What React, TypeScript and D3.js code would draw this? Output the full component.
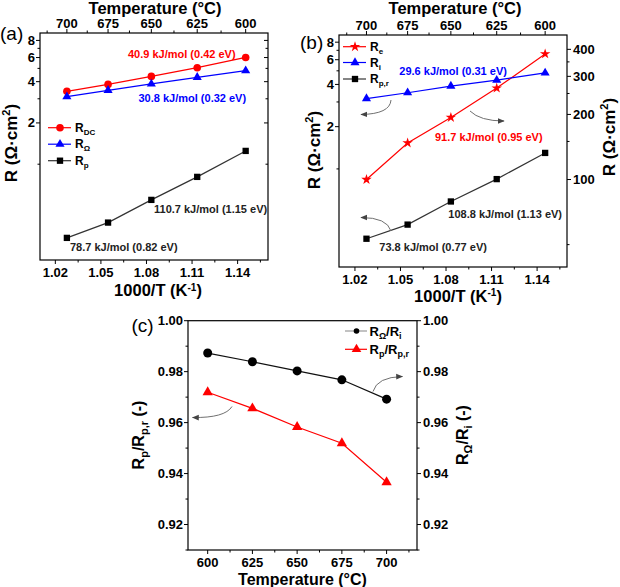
import React from 'react';
import * as d3 from 'd3';

const FONT = "'Liberation Sans', Arial, Helvetica, sans-serif";

// ---------- shared x (1000/T) ----------
const tempLabels = [700, 675, 650, 625, 600];
const invT = [1.0276, 1.0547, 1.0832, 1.1134, 1.1453];
const invTicks = [1.02, 1.05, 1.08, 1.11, 1.14];
const invMinor = [1.035, 1.065, 1.095, 1.125, 1.155];
const topMinor = [1.0146, 1.041, 1.0688, 1.0981, 1.1291];
const logMajor = [2, 4, 6, 8];
const logMinor = [1, 3, 5, 7];

// ---------- panel (a) ----------
const rDC = [3.4, 3.82, 4.37, 5.06, 6.01];
const rOhm = [3.11, 3.46, 3.85, 4.3, 4.81];
const rP = [0.29, 0.375, 0.549, 0.808, 1.25];

// ---------- panel (b) ----------
const rE = [100, 147.6, 193.7, 264.7, 381];
const rI = [3.17, 3.49, 3.89, 4.29, 4.83];
const rPr = [0.318, 0.401, 0.586, 0.846, 1.3];
const rightMajor = [100, 200, 300, 400];
const rightMinor = [50, 150, 250, 350];

// ---------- panel (c) ----------
const tempC = [600, 625, 650, 675, 700];
const ratioOhm = [0.9873, 0.9839, 0.9803, 0.9768, 0.9692];
const ratioP = [0.9719, 0.9656, 0.9583, 0.9519, 0.9366];
const cTicksX = [600, 625, 650, 675, 700];
const cMinorX = [612.5, 637.5, 662.5, 687.5, 712.5];
const cTicksY = [0.92, 0.94, 0.96, 0.98, 1.0];
const cMinorY = [0.91, 0.93, 0.95, 0.97, 0.99];

const RED = '#ff0000';
const BLUE = '#0000ff';
const DARK = '#333333';
const ARROW = '#707070';

const sym = (type: any, size: number) => d3.symbol().type(type).size(size)() as string;

function Marker({ x, y, kind, color, size }: any) {
  if (kind === 'circle') return <circle cx={x} cy={y} r={size} fill={color} />;
  const t = kind === 'triangle' ? d3.symbolTriangle : kind === 'square' ? d3.symbolSquare : d3.symbolStar;
  return <path d={sym(t, size)} transform={`translate(${x},${y})`} fill={color} />;
}

function Series({ xs, ys, xScale, yScale, color, lineColor, kind, size, lw = 1.2 }: any) {
  const line = d3
    .line<number>()
    .x((_, i) => xScale(xs[i]))
    .y((d) => yScale(d));
  return (
    <g>
      <path d={line(ys) as string} fill="none" stroke={lineColor || color} strokeWidth={lw} />
      {ys.map((v: number, i: number) => (
        <Marker key={i} x={xScale(xs[i])} y={yScale(v)} kind={kind} color={color} size={size} />
      ))}
    </g>
  );
}

function Arrow({ d, id }: any) {
  return <path d={d} fill="none" stroke={ARROW} strokeWidth={1} markerEnd={`url(#${id})`} />;
}

const tickText = { fontFamily: FONT, fontWeight: 700, fontSize: 13, fill: '#000' } as any;
const annText = { fontFamily: FONT, fontWeight: 700, fontSize: 11 } as any;
const titleText = { fontFamily: FONT, fontWeight: 700, fontSize: 17, fill: '#000' } as any;
const legText = { fontFamily: FONT, fontWeight: 700, fontSize: 12, fill: '#000' } as any;

function RTitle({ x, y }: any) {
  return (
    <text transform={`translate(${x},${y}) rotate(-90)`} textAnchor="middle" style={titleText}>
      R (Ω·cm<tspan dy={-7} fontSize={11}>2</tspan>
      <tspan dy={7}>)</tspan>
    </text>
  );
}

function InvTitle({ x, y }: any) {
  return (
    <text x={x} y={y} textAnchor="middle" style={{ ...titleText, fontSize: 16.5 }}>
      1000/T (K<tspan dy={-5.5} fontSize={10}>-1</tspan>
      <tspan dy={5.5}>)</tspan>
    </text>
  );
}

function LegendItem({ x, y, kind, color, lineColor, size, main, sub }: any) {
  return (
    <g>
      <line x1={x} x2={x + 23} y1={y} y2={y} stroke={lineColor || color} strokeWidth={1.2} />
      <Marker x={x + 12} y={y} kind={kind} color={color} size={size} />
      <text x={x + 27} y={y + 4} style={legText}>
        {main}
        <tspan dy={3} fontSize={8}>
          {sub}
        </tspan>
      </text>
    </g>
  );
}

function InvTempFrame({ xScale, yL, box, rightLabels, yR }: any) {
  const { l, r, t, b } = box;
  return (
    <g>
      <rect x={l} y={t} width={r - l} height={b - t} fill="none" stroke="#000" strokeWidth={1.2} />
      {/* bottom axis */}
      {invTicks.map((v) => (
        <g key={'b' + v}>
          <line x1={xScale(v)} x2={xScale(v)} y1={b} y2={b + 4} stroke="#000" strokeWidth={1} />
          <text x={xScale(v)} y={b + 16.5} textAnchor="middle" style={tickText}>
            {v.toFixed(2)}
          </text>
        </g>
      ))}
      {invMinor.map((v) => (
        <line key={'bm' + v} x1={xScale(v)} x2={xScale(v)} y1={b} y2={b + 2.5} stroke="#000" strokeWidth={1} />
      ))}
      {/* top axis (temperature) */}
      {invT.map((v, i) => (
        <g key={'t' + v}>
          <line x1={xScale(v)} x2={xScale(v)} y1={t} y2={t - 4} stroke="#000" strokeWidth={1} />
          <text x={xScale(v)} y={t - 5.5} textAnchor="middle" style={tickText}>
            {tempLabels[i]}
          </text>
        </g>
      ))}
      {topMinor.map((v) => (
        <line key={'tm' + v} x1={xScale(v)} x2={xScale(v)} y1={t} y2={t - 2.5} stroke="#000" strokeWidth={1} />
      ))}
      {/* left axis */}
      {logMajor.map((v) => (
        <g key={'l' + v}>
          <line x1={l} x2={l - 4} y1={yL(v)} y2={yL(v)} stroke="#000" strokeWidth={1} />
          <text x={l - 5} y={yL(v) + 4.5} textAnchor="end" style={tickText}>
            {v}
          </text>
        </g>
      ))}
      {logMinor.map((v) => (
        <line key={'lm' + v} x1={l} x2={l - 2.5} y1={yL(v)} y2={yL(v)} stroke="#000" strokeWidth={1} />
      ))}
      {/* right axis */}
      {rightLabels ? (
        <g>
          {rightMajor.map((v) => (
            <g key={'r' + v}>
              <line x1={r} x2={r + 4} y1={yR(v)} y2={yR(v)} stroke="#000" strokeWidth={1} />
              <text x={r + 6} y={yR(v) + 4.5} textAnchor="start" style={tickText}>
                {v}
              </text>
            </g>
          ))}
          {rightMinor.map((v) => (
            <line key={'rm' + v} x1={r} x2={r + 2.5} y1={yR(v)} y2={yR(v)} stroke="#000" strokeWidth={1} />
          ))}
        </g>
      ) : (
        <g>
          {logMajor.map((v) => (
            <line key={'r' + v} x1={r} x2={r - 4} y1={yL(v)} y2={yL(v)} stroke="#000" strokeWidth={1} />
          ))}
          {logMinor.map((v) => (
            <line key={'rm' + v} x1={r} x2={r - 2.5} y1={yL(v)} y2={yL(v)} stroke="#000" strokeWidth={1} />
          ))}
        </g>
      )}
    </g>
  );
}

export default function App() {
  // panel (a)
  const boxA = { l: 40, r: 268, t: 33, b: 260 };
  const xA = d3.scaleLinear().domain([1.0099, 1.16]).range([boxA.l, boxA.r]);
  const yA = d3.scaleLog().domain([0.2, 9.06]).range([boxA.b, boxA.t]);

  // panel (b)
  const boxB = { l: 339, r: 567, t: 35, b: 267 };
  const xB = d3.scaleLinear().domain([1.0095, 1.1597]).range([boxB.l, boxB.r]);
  const yBL = d3.scaleLog().domain([0.2, 9.0]).range([boxB.b, boxB.t]);
  const yBR = d3.scaleLog().domain([39.4, 466]).range([boxB.b, boxB.t]);

  // panel (c)
  const boxC = { l: 188, r: 417, t: 320.7, b: 550 };
  const xC = d3.scaleLinear().domain([589, 717]).range([boxC.l, boxC.r]);
  const yC = d3.scaleLinear().domain([0.91, 1.0]).range([boxC.b, boxC.t]);

  return (
    <svg
      width={620}
      height={587}
      viewBox="0 0 620 587"
      style={{ position: 'absolute', left: 0, top: 0, background: '#fff' }}
    >
      <defs>
        <marker id="ah" viewBox="0 0 10 10" refX="9" refY="5" markerWidth="7" markerHeight="7" orient="auto-start-reverse">
          <path d="M0,1 L10,5 L0,9 z" fill="#444" />
        </marker>
      </defs>
      <rect x={0} y={0} width={620} height={587} fill="#fff" />

      {/* ================= (a) ================= */}
      <text x={0} y={40} style={{ fontFamily: FONT, fontSize: 19, fill: '#000' }}>(a)</text>
      <text x={155} y={13.5} textAnchor="middle" style={{ ...titleText, fontSize: 16.5 }}>Temperature (°C)</text>
      <InvTempFrame xScale={xA} yL={yA} box={boxA} />
      <RTitle x={17} y={143} />
      <InvTitle x={158} y={296} />
      <Series xs={invT} ys={rDC} xScale={xA} yScale={yA} color={RED} kind="circle" size={3.8} />
      <Series xs={invT} ys={rOhm} xScale={xA} yScale={yA} color={BLUE} kind="triangle" size={36} />
      <Series xs={invT} ys={rP} xScale={xA} yScale={yA} color="#000" lineColor={DARK} kind="square" size={40} />
      <text x={128} y={57.5} style={{ ...annText, fill: RED }}>40.9 kJ/mol (0.42 eV)</text>
      <text x={138.5} y={101.7} style={{ ...annText, fill: BLUE }}>30.8 kJ/mol (0.32 eV)</text>
      <text x={154} y={213} style={{ ...annText, fill: '#222' }}>110.7 kJ/mol (1.15 eV)</text>
      <text x={70} y={251.3} style={{ ...annText, fill: '#222' }}>78.7 kJ/mol (0.82 eV)</text>
      <LegendItem x={48} y={127.7} kind="circle" color={RED} size={3.8} main="R" sub="DC" />
      <LegendItem x={48} y={144.2} kind="triangle" color={BLUE} size={36} main="R" sub="Ω" />
      <LegendItem x={48} y={160.7} kind="square" color="#000" lineColor={DARK} size={40} main="R" sub="p" />

      {/* ================= (b) ================= */}
      <text x={300} y={49} style={{ fontFamily: FONT, fontSize: 19, fill: '#000' }}>(b)</text>
      <text x={455} y={13.5} textAnchor="middle" style={{ ...titleText, fontSize: 16.5 }}>Temperature (°C)</text>
      <InvTempFrame xScale={xB} yL={yBL} box={boxB} rightLabels yR={yBR} />
      <RTitle x={320} y={150} />
      <RTitle x={615} y={137} />
      <InvTitle x={458} y={301.5} />
      <Series xs={invT} ys={rE} xScale={xB} yScale={yBR} color={RED} kind="star" size={34} />
      <Series xs={invT} ys={rI} xScale={xB} yScale={yBL} color={BLUE} kind="triangle" size={36} />
      <Series xs={invT} ys={rPr} xScale={xB} yScale={yBL} color="#000" lineColor={DARK} kind="square" size={40} />
      <text x={399.3} y={75} style={{ ...annText, fill: BLUE }}>29.6 kJ/mol (0.31 eV)</text>
      <text x={435} y={140.7} style={{ ...annText, fill: RED }}>91.7 kJ/mol (0.95 eV)</text>
      <text x={448.3} y={218} style={{ ...annText, fill: '#222' }}>108.8 kJ/mol (1.13 eV)</text>
      <text x={379.3} y={250.7} style={{ ...annText, fill: '#222' }}>73.8 kJ/mol (0.77 eV)</text>
      <Arrow id="ah" d="M391,100 Q390,114 361,114.5" />
      <Arrow id="ah" d="M470,111 Q480,121 504,121" />
      <Arrow id="ah" d="M391,231 Q387,217.5 361,217.5" />
      <LegendItem x={343} y={46.7} kind="star" color={RED} size={34} main="R" sub="e" />
      <LegendItem x={343} y={62.5} kind="triangle" color={BLUE} size={36} main="R" sub="i" />
      <LegendItem x={343} y={79} kind="square" color="#000" lineColor={DARK} size={40} main="R" sub="p,r" />

      {/* ================= (c) ================= */}
      <text x={131.5} y={332} style={{ fontFamily: FONT, fontSize: 19, fill: '#000' }}>(c)</text>
      <rect x={boxC.l} y={boxC.t} width={boxC.r - boxC.l} height={boxC.b - boxC.t} fill="none" stroke="#000" strokeWidth={1.2} />
      {cTicksX.map((v) => (
        <g key={'cx' + v}>
          <line x1={xC(v)} x2={xC(v)} y1={boxC.b} y2={boxC.b + 4} stroke="#000" strokeWidth={1} />
          <text x={xC(v)} y={boxC.b + 17} textAnchor="middle" style={tickText}>{v}</text>
        </g>
      ))}
      {cMinorX.map((v) => (
        <line key={'cxm' + v} x1={xC(v)} x2={xC(v)} y1={boxC.b} y2={boxC.b + 2.5} stroke="#000" strokeWidth={1} />
      ))}
      {cTicksY.map((v) => (
        <g key={'cy' + v}>
          <line x1={boxC.l} x2={boxC.l - 4} y1={yC(v)} y2={yC(v)} stroke="#000" strokeWidth={1} />
          <text x={boxC.l - 5} y={yC(v) + 4.5} textAnchor="end" style={tickText}>{v.toFixed(2)}</text>
          <line x1={boxC.r} x2={boxC.r + 4} y1={yC(v)} y2={yC(v)} stroke="#000" strokeWidth={1} />
          <text x={boxC.r + 6} y={yC(v) + 4.5} textAnchor="start" style={tickText}>{v.toFixed(2)}</text>
        </g>
      ))}
      {cMinorY.map((v) => (
        <g key={'cym' + v}>
          <line x1={boxC.l} x2={boxC.l - 2.5} y1={yC(v)} y2={yC(v)} stroke="#000" strokeWidth={1} />
          <line x1={boxC.r} x2={boxC.r + 2.5} y1={yC(v)} y2={yC(v)} stroke="#000" strokeWidth={1} />
        </g>
      ))}
      <text x={302.5} y={584.5} textAnchor="middle" style={{ ...titleText, fontSize: 16 }}>Temperature (°C)</text>
      <text transform="translate(144,435) rotate(-90)" textAnchor="middle" style={{ ...titleText, fontSize: 16 }}>
        R<tspan dy={4} fontSize={11}>p</tspan>
        <tspan dy={-4}>/R</tspan>
        <tspan dy={4} fontSize={11}>p,r</tspan>
        <tspan dy={-4}> (-)</tspan>
      </text>
      <text transform="translate(468,435) rotate(-90)" textAnchor="middle" style={{ ...titleText, fontSize: 16 }}>
        R<tspan dy={4} fontSize={11}>Ω</tspan>
        <tspan dy={-4}>/R</tspan>
        <tspan dy={4} fontSize={11}>i</tspan>
        <tspan dy={-4}> (-)</tspan>
      </text>
      <Series xs={tempC} ys={ratioOhm} xScale={xC} yScale={yC} color="#000" lineColor="#111" kind="circle" size={4.5} />
      <Series xs={tempC} ys={ratioP} xScale={xC} yScale={yC} color={RED} kind="triangle" size={46} />
      <Arrow id="ah" d="M373,391.5 Q377,377 402.5,376.5" />
      <Arrow id="ah" d="M232,406.5 Q225,418 192.5,417.5" />
      {/* legend (c) */}
      <line x1={345} x2={367} y1={331} y2={331} stroke="#999" strokeWidth={1.2} />
      <circle cx={356.5} cy={331} r={2.8} fill="#000" />
      <text x={369.5} y={335.5} style={{ ...legText, fontSize: 13 }}>
        R<tspan dy={3} fontSize={9}>Ω</tspan>
        <tspan dy={-3}>/R</tspan>
        <tspan dy={3} fontSize={9}>i</tspan>
      </text>
      <line x1={345} x2={367} y1={349.3} y2={349.3} stroke={RED} strokeWidth={1.2} />
      <path d={sym(d3.symbolTriangle, 40)} transform="translate(356.5,349.3)" fill={RED} />
      <text x={369.5} y={354} style={{ ...legText, fontSize: 13 }}>
        R<tspan dy={3} fontSize={9}>p</tspan>
        <tspan dy={-3}>/R</tspan>
        <tspan dy={3} fontSize={9}>p,r</tspan>
      </text>
    </svg>
  );
}
